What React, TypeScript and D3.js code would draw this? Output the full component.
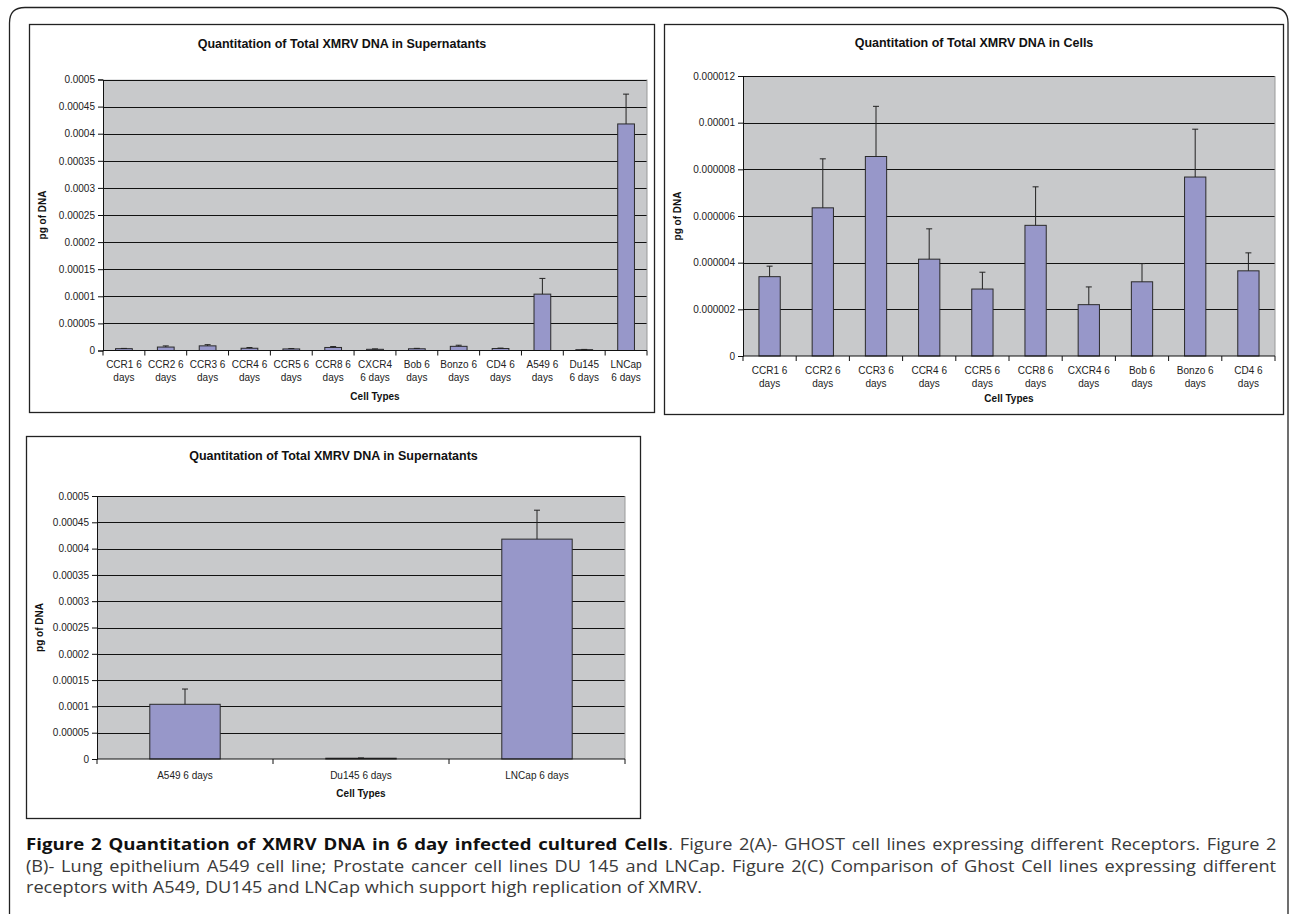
import * as d3 from 'd3'
import React, { useEffect, useRef } from 'react'

// ---- data ----
const ghostCells = ['CCR1', 'CCR2', 'CCR3', 'CCR4', 'CCR5', 'CCR8', 'CXCR4', 'Bob', 'Bonzo', 'CD4']
const cellsValues = [3.4e-6, 6.35e-6, 8.55e-6, 4.15e-6, 2.87e-6, 5.6e-6, 2.2e-6, 3.18e-6, 7.67e-6, 3.65e-6]
const cellsErrors = [0.45e-6, 2.1e-6, 2.15e-6, 1.3e-6, 0.72e-6, 1.65e-6, 0.76e-6, 0.78e-6, 2.05e-6, 0.77e-6]

const lineCells = ['A549', 'Du145', 'LNCap']
const lineValues = [0.000104, 0.0000015, 0.000418]
const lineErrors = [0.000029, 0.0000005, 0.000055]

const supLabelsA = [
  ['CCR1 6', 'days'], ['CCR2 6', 'days'], ['CCR3 6', 'days'], ['CCR4 6', 'days'], ['CCR5 6', 'days'],
  ['CCR8 6', 'days'], ['CXCR4', '6 days'], ['Bob 6', 'days'], ['Bonzo 6', 'days'], ['CD4 6', 'days'],
  ['A549 6', 'days'], ['Du145', '6 days'], ['LNCap', '6 days'],
]
const cellLabelsB = [
  ['CCR1 6', 'days'], ['CCR2 6', 'days'], ['CCR3 6', 'days'], ['CCR4 6', 'days'], ['CCR5 6', 'days'],
  ['CCR8 6', 'days'], ['CXCR4 6', 'days'], ['Bob 6', 'days'], ['Bonzo 6', 'days'], ['CD4 6', 'days'],
]
const lineLabelsC = [['A549 6 days'], ['Du145 6 days'], ['LNCap 6 days']]

const supTicks = ['0', '0.00005', '0.0001', '0.00015', '0.0002', '0.00025', '0.0003', '0.00035', '0.0004', '0.00045', '0.0005']
const cellTicks = ['0', '0.000002', '0.000004', '0.000006', '0.000008', '0.00001', '0.000012']

const captionBold = 'Figure 2 Quantitation of XMRV DNA in 6 day infected cultured Cells'
const captionLines = [
  '. Figure 2(A)- GHOST cell lines expressing different Receptors. Figure 2',
  '(B)- Lung epithelium A549 cell line; Prostate cancer cell lines DU 145 and LNCap. Figure 2(C) Comparison of Ghost Cell lines expressing different',
  'receptors with A549, DU145 and LNCap which support high replication of XMRV.',
]

const font = "'Liberation Sans', Arial, sans-serif"

interface Panel {
  box: [number, number, number, number]
  plot: [number, number, number, number]
  title: string
  titleY: number
  names: string[]
  values: number[]
  errors: number[]
  labels: string[][]
  ticks: string[]
  labelY: number
  axisTitleY: number
  yTitleX: number
}

const panels: Panel[] = [
  {
    box: [29.5, 24.5, 625, 388],
    plot: [103, 79.5, 544, 271],
    title: 'Quantitation of Total XMRV DNA in Supernatants',
    titleY: 48,
    names: [...ghostCells, ...lineCells],
    values: [...cellsValues, ...lineValues],
    errors: [...cellsErrors, ...lineErrors],
    labels: supLabelsA,
    ticks: supTicks,
    labelY: 368,
    axisTitleY: 400,
    yTitleX: 46,
  },
  {
    box: [664.5, 24.5, 619, 390],
    plot: [743, 76, 532, 280],
    title: 'Quantitation of Total XMRV DNA in Cells',
    titleY: 47,
    names: ghostCells,
    values: cellsValues,
    errors: cellsErrors,
    labels: cellLabelsB,
    ticks: cellTicks,
    labelY: 374,
    axisTitleY: 402,
    yTitleX: 681,
  },
  {
    box: [26.5, 436.5, 614, 382],
    plot: [97, 496, 528, 263],
    title: 'Quantitation of Total XMRV DNA in Supernatants',
    titleY: 460,
    names: lineCells,
    values: lineValues,
    errors: lineErrors,
    labels: lineLabelsC,
    ticks: supTicks,
    labelY: 779,
    axisTitleY: 797,
    yTitleX: 43,
  },
]

const drawPanel = (svg: d3.Selection<SVGSVGElement, unknown, null, undefined>, p: Panel) => {
  const [bx, by, bw, bh] = p.box
  const [px, py, pw, ph] = p.plot
  const g = svg.append('g')

  g.append('rect').attr('x', bx).attr('y', by).attr('width', bw).attr('height', bh)
    .attr('fill', '#fff').attr('stroke', '#222').attr('stroke-width', 1.3)

  g.append('text').attr('x', bx + bw / 2).attr('y', p.titleY).attr('text-anchor', 'middle')
    .attr('font-family', font).attr('font-size', 12.5).attr('font-weight', 'bold').attr('fill', '#111')
    .text(p.title)

  const tickVals = p.ticks.map(Number)
  const yMax = d3.max(tickVals) as number
  const y = d3.scaleLinear().domain([0, yMax]).range([py + ph, py])
  const x = d3.scaleBand().domain(p.names).range([px, px + pw]).paddingInner(0).paddingOuter(0)

  g.append('rect').attr('x', px).attr('y', py).attr('width', pw).attr('height', ph).attr('fill', '#c8c9cb')

  // gridlines
  g.selectAll('.grid').data(tickVals.slice(1)).enter().append('line')
    .attr('x1', px).attr('x2', px + pw)
    .attr('y1', (d) => Math.round(y(d)) + 0.5).attr('y2', (d) => Math.round(y(d)) + 0.5)
    .attr('stroke', '#111').attr('stroke-width', 1)
  g.append('line').attr('x1', px + pw).attr('x2', px + pw).attr('y1', py).attr('y2', py + ph)
    .attr('stroke', '#999').attr('stroke-width', 1)

  // bars
  const bw2 = x.bandwidth() / 2.5
  g.selectAll('.bar').data(p.values).enter().append('rect')
    .attr('x', (d, i) => (x(p.names[i]) as number) + x.bandwidth() / 2 - bw2 / 2)
    .attr('width', bw2)
    .attr('y', (d) => y(d))
    .attr('height', (d) => y(0) - y(d))
    .attr('fill', '#9797c9').attr('stroke', '#2a2a2a').attr('stroke-width', 1)

  // error bars
  const cx = (i: number) => (x(p.names[i]) as number) + x.bandwidth() / 2
  g.selectAll('.err').data(p.values).enter().append('line')
    .attr('x1', (d, i) => cx(i)).attr('x2', (d, i) => cx(i))
    .attr('y1', (d) => y(d)).attr('y2', (d, i) => y(d + p.errors[i]))
    .attr('stroke', '#222').attr('stroke-width', 1)
  g.selectAll('.cap').data(p.values).enter().append('line')
    .attr('x1', (d, i) => cx(i) - 3).attr('x2', (d, i) => cx(i) + 3)
    .attr('y1', (d, i) => y(d + p.errors[i])).attr('y2', (d, i) => y(d + p.errors[i]))
    .attr('stroke', '#222').attr('stroke-width', 1)

  // y axis
  const yAxis = g.append('g').attr('transform', `translate(${px},0)`)
    .call(d3.axisLeft(y).tickValues(tickVals).tickSize(5).tickPadding(3).tickFormat((d, i) => p.ticks[i]))
  yAxis.select('.domain').attr('stroke', '#111')
  yAxis.selectAll('line').attr('stroke', '#111')
  yAxis.selectAll('text').attr('font-family', font).attr('font-size', 10).attr('fill', '#222')

  // x axis with ticks between categories
  const xAxis = g.append('g').attr('transform', `translate(0,${py + ph})`)
  xAxis.append('line').attr('x1', px).attr('x2', px + pw).attr('stroke', '#111')
  const bounds = p.names.map((n) => x(n) as number).concat([px + pw])
  xAxis.selectAll('.xt').data(bounds).enter().append('line')
    .attr('x1', (d) => d).attr('x2', (d) => d).attr('y1', 0).attr('y2', 5).attr('stroke', '#111')

  p.labels.forEach((lines, i) => {
    const t = g.append('text').attr('text-anchor', 'middle').attr('font-family', font)
      .attr('font-size', 10).attr('fill', '#222')
    lines.forEach((line, j) => {
      t.append('tspan').attr('x', cx(i)).attr('y', p.labelY + j * 12.5).text(line)
    })
  })

  g.append('text').attr('x', px + pw / 2).attr('y', p.axisTitleY).attr('text-anchor', 'middle')
    .attr('font-family', font).attr('font-size', 10).attr('font-weight', 'bold').attr('fill', '#111')
    .text('Cell Types')

  g.append('text').attr('transform', `translate(${p.yTitleX},${py + ph / 2}) rotate(-90)`)
    .attr('text-anchor', 'middle').attr('font-family', font).attr('font-size', 10)
    .attr('font-weight', 'bold').attr('fill', '#111').text('pg of DNA')
}

const App: React.FC = () => {
  const ref = useRef<SVGSVGElement>(null)

  useEffect(() => {
    document.body.style.margin = '0'
    const svg = d3.select(ref.current as SVGSVGElement)
    svg.selectAll('*').remove()

    svg.append('path')
      .attr('d', 'M9.5,914 L9.5,23 Q9.5,7.5 25,7.5 L1272,7.5 Q1288,7.5 1288,23 L1288,914')
      .attr('fill', 'none').attr('stroke', '#222').attr('stroke-width', 1.3)

    panels.forEach((p) => drawPanel(svg, p))

    // caption: slightly condensed glyphs, first two lines justified
    const capFont = "'Open Sans', sans-serif"
    const addText = (s: string, bold: boolean) =>
      svg.append('text').attr('font-family', capFont).attr('font-size', 16)
        .attr('font-weight', bold ? 'bold' : 'normal').attr('fill', bold ? '#111' : '#3a3a3a').text(s)
    const width = (t: d3.Selection<SVGTextElement, unknown, null, undefined>) =>
      (t.node() as SVGTextElement).getComputedTextLength()
    const spaces = (s: string) => s.split(' ').length - 1

    const capX = 26
    const right = 1277
    const base = [850, 871.5, 893]
    const e = 2 // extra word spacing on justified lines

    const regular = captionLines.map((s) => addText(s, false))
    const bold = addText(captionBold, true)
    const k = (right - capX - spaces(captionLines[1]) * e) / width(regular[1])

    const place = (t: d3.Selection<SVGTextElement, unknown, null, undefined>, x: number, y: number, sx: number, ws: number) => {
      t.attr('transform', `translate(${x},${y}) scale(${sx},1)`).attr('word-spacing', ws / sx)
    }

    // line 1: bold head condensed to fill what the regular tail leaves
    const tail = width(regular[0]) * k + spaces(captionLines[0]) * e
    const kb = (right - capX - tail - spaces(captionBold) * e) / width(bold)
    place(bold, capX, base[0], kb, e)
    place(regular[0], right - tail, base[0], k, e)
    // line 2 justified, line 3 natural
    place(regular[1], capX, base[1], k, e)
    place(regular[2], capX, base[2], k, 0)
  }, [])

  return <svg ref={ref} width={1290} height={916} style={{ display: 'block' }} />
}

export default App
